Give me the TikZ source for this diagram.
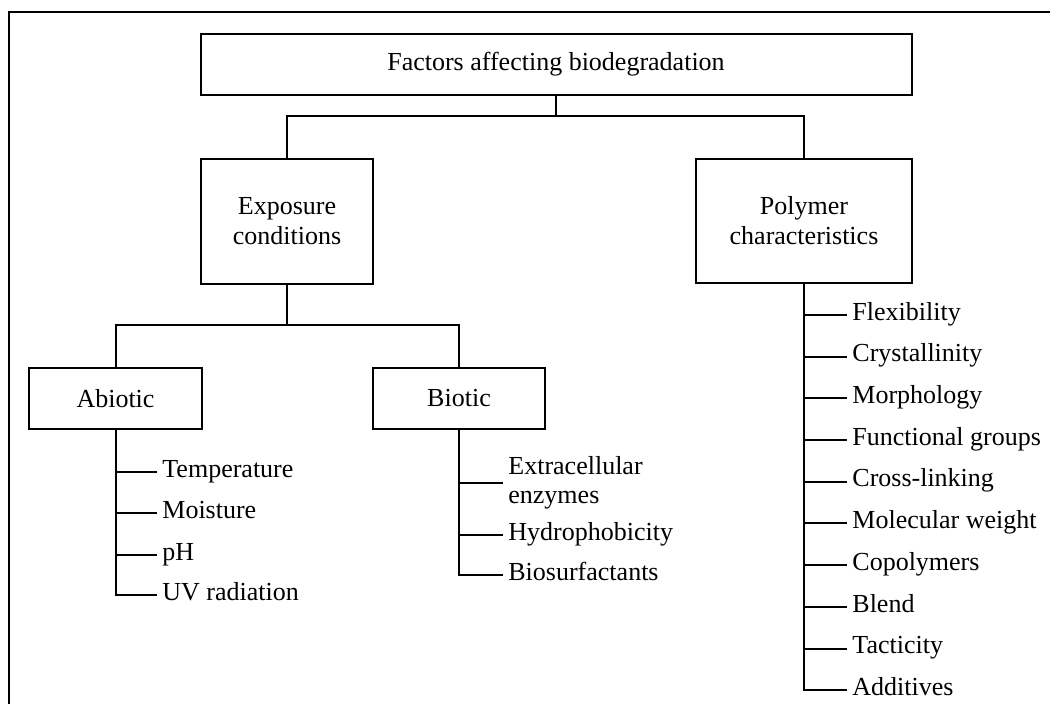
\documentclass[tikz,border=0pt]{standalone}
\usepackage{fontspec}
\setmainfont{Liberation Serif}
\usetikzlibrary{positioning}

\begin{document}
\begin{tikzpicture}[
    x=0.5pt, y=-0.5pt,
    % Box style
    box/.style={
        rectangle,
        draw=black,
        line width=1pt,
        align=center,
        inner sep=0pt,
        font=\fontsize{13}{15}\selectfont
    },
    % List entry styles
    entry/.style={
        inner xsep=2.5pt,
        inner ysep=0pt,
        align=left,
        anchor=west,
        font=\fontsize{13}{14.5}\selectfont
    },
    oneline/.style={
        entry,
        text height=0.62em,
        text depth=0.1em
    },
    % Connector styles
    link/.style={
        draw=black,
        line width=1pt
    },
    pageframe/.style={
        draw=black,
        line width=1pt
    }
]

\useasboundingbox (0,0) rectangle (1050,704);

% ===== FRAME =====
\draw[pageframe] (1050,12) -- (9,12) -- (9,704);

% ===== MAIN BOXES =====
\node[box, minimum width=355.5pt, minimum height=30.7pt] (factors) at (556,64.3) {Factors affecting biodegradation};

\node[box, minimum width=86pt, minimum height=62.5pt] (exposure) at (287,221.5) {Exposure\\conditions};

\node[box, minimum width=108pt, minimum height=62pt] (polymer) at (804,221) {Polymer\\characteristics};

\node[box, minimum width=86.5pt, minimum height=30.5pt] (abiotic) at (115.5,398.5) {Abiotic};

\node[box, minimum width=86pt, minimum height=30.5pt] (biotic) at (459,398.5) {Biotic};

% ===== TREE CONNECTORS =====
\coordinate (split1) at (556,116);
\draw[link] (factors.south) -- (split1);
\draw[link] (exposure.north) |- (split1) -| (polymer.north);

\coordinate (split2) at (287,325);
\draw[link] (exposure.south) -- (split2);
\draw[link] (abiotic.north) |- (split2) -| (biotic.north);

% ===== ABIOTIC LIST =====
\node[oneline] (temp) at (157,472) {Temperature};
\node[oneline, below=20.75pt of temp.west, anchor=west] (moist) {Moisture};
\node[oneline, below=20.75pt of moist.west, anchor=west] (ph) {pH};
\node[oneline, below=20pt of ph.west, anchor=west] (uv) {UV radiation};

\draw[link] (abiotic.south) |- (uv.west);
\draw[link] (abiotic.south |- temp.west) -- (temp.west);
\draw[link] (abiotic.south |- moist.west) -- (moist.west);
\draw[link] (abiotic.south |- ph.west) -- (ph.west);

% ===== BIOTIC LIST =====
\node[entry] (enzymes) at (503,483) {Extracellular\\enzymes};
\node[oneline, below=26pt of enzymes.west, anchor=west] (hydro) {Hydrophobicity};
\node[oneline, below=20pt of hydro.west, anchor=west] (biosurf) {Biosurfactants};

\draw[link] (biotic.south) |- (biosurf.west);
\draw[link] (biotic.south |- enzymes.west) -- (enzymes.west);
\draw[link] (biotic.south |- hydro.west) -- (hydro.west);

% ===== POLYMER LIST =====
\node[oneline] (flex) at (847,315) {Flexibility};
\node[oneline, below=20.85pt of flex.west, anchor=west] (cryst) {Crystallinity};
\node[oneline, below=20.85pt of cryst.west, anchor=west] (morph) {Morphology};
\node[oneline, below=20.85pt of morph.west, anchor=west] (func) {Functional groups};
\node[oneline, below=20.85pt of func.west, anchor=west] (cross) {Cross-linking};
\node[oneline, below=20.85pt of cross.west, anchor=west] (molw) {Molecular weight};
\node[oneline, below=20.85pt of molw.west, anchor=west] (copol) {Copolymers};
\node[oneline, below=20.85pt of copol.west, anchor=west] (blend) {Blend};
\node[oneline, below=20.85pt of blend.west, anchor=west] (tact) {Tacticity};
\node[oneline, below=20.85pt of tact.west, anchor=west] (addit) {Additives};

\draw[link] (polymer.south) |- (addit.west);
\draw[link] (polymer.south |- flex.west) -- (flex.west);
\draw[link] (polymer.south |- cryst.west) -- (cryst.west);
\draw[link] (polymer.south |- morph.west) -- (morph.west);
\draw[link] (polymer.south |- func.west) -- (func.west);
\draw[link] (polymer.south |- cross.west) -- (cross.west);
\draw[link] (polymer.south |- molw.west) -- (molw.west);
\draw[link] (polymer.south |- copol.west) -- (copol.west);
\draw[link] (polymer.south |- blend.west) -- (blend.west);
\draw[link] (polymer.south |- tact.west) -- (tact.west);

\end{tikzpicture}
\end{document}
